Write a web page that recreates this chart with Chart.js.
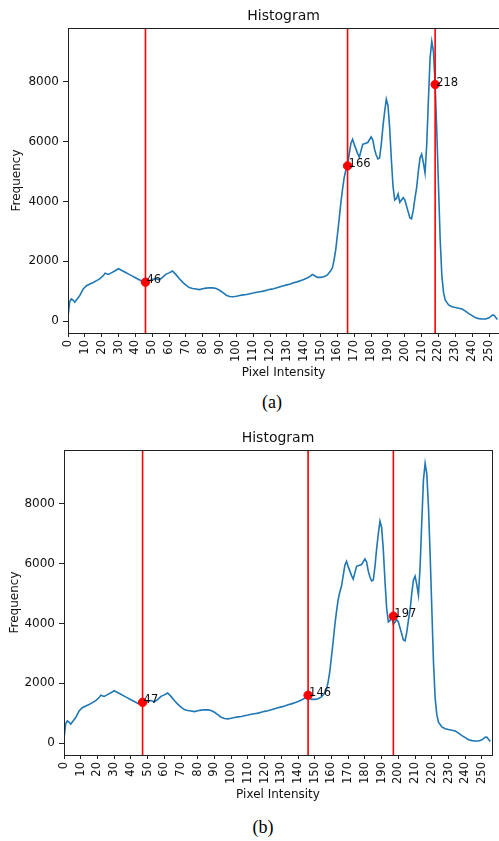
<!DOCTYPE html>
<html>
<head>
<meta charset="utf-8">
<script src="https://cdn.jsdelivr.net/npm/chart.js@4/dist/chart.umd.min.js"></script>
<style>
  html, body { margin: 0; padding: 0; background: #fff; }
  body { width: 499px; height: 841px; position: relative; overflow: hidden; }
  .wrap { position: absolute; left: 0; width: 499px; height: 392px; overflow: hidden; }
  .caption { position: absolute; font-family: "Liberation Serif", serif; font-size: 18px; color: #000; transform: translate(-50%, -50%); }
</style>
</head>
<body>
<div class="wrap" style="top:0px"><canvas id="chartA" width="506" height="390"></canvas></div>
<div class="caption" style="left:272px; top:402px">(a)</div>
<div class="wrap" style="top:422px"><canvas id="chartB" width="499" height="390"></canvas></div>
<div class="caption" style="left:263px; top:827px">(b)</div>

<script>
// histogram (pixel intensity -> frequency)
const intensity = [0, 1, 2, 3, 4, 6, 7, 9, 11, 13, 15, 17, 19, 21, 22, 24, 26, 28, 30, 32, 34, 36, 38, 40,
  42, 44, 46, 48, 50, 52, 54, 56, 58, 60, 62, 64, 66, 68, 70, 72, 74, 76, 78, 80, 82, 84, 86, 88, 90,
  92, 94, 96, 98, 100, 102, 104, 106, 108, 110, 112, 114, 116, 118, 120, 122, 124, 126, 128, 130, 132,
  134, 136, 138, 140, 142, 144, 145, 146, 148, 150, 152, 154, 156, 157, 158, 159, 160, 161, 162, 163,
  164, 165, 166, 167, 168, 169, 170, 171, 172, 173, 174, 175, 176, 178, 180, 181, 182, 183, 184, 185,
  186, 187, 188, 189, 190, 191, 192, 193, 194, 195, 196, 197, 198, 199, 200, 201, 202, 203, 204, 205,
  206, 207, 208, 209, 210, 211, 212, 213, 214, 215, 216, 217, 218, 219, 220, 221, 222, 223, 224, 226,
  228, 230, 232, 234, 236, 238, 240, 242, 244, 246, 248, 250, 252, 253, 254, 255];
const frequency = [150, 650, 740, 700, 630, 780, 850, 1070, 1180, 1240, 1290, 1350, 1420, 1520, 1600, 1560,
  1620, 1680, 1750, 1690, 1630, 1570, 1510, 1450, 1390, 1330, 1300, 1340, 1390, 1420, 1380, 1450, 1560,
  1610, 1675, 1560, 1420, 1300, 1200, 1120, 1090, 1070, 1050, 1080, 1100, 1115, 1110, 1090, 1030, 950,
  865, 820, 810, 830, 855, 875, 890, 915, 935, 960, 980, 1000, 1030, 1060, 1080, 1110, 1150, 1180, 1210,
  1240, 1280, 1310, 1350, 1390, 1440, 1500, 1560, 1530, 1460, 1460, 1480, 1540, 1680, 1780, 2050, 2400,
  2900, 3400, 3950, 4400, 4800, 5050, 5250, 5600, 5950, 6080, 5900, 5750, 5600, 5480, 5700, 5910, 5930,
  5970, 6160, 6050, 5750, 5550, 5420, 5450, 5900, 6500, 7000, 7420, 7200, 6450, 5400, 4500, 4050, 4100,
  4250, 3970, 4050, 4130, 4050, 3850, 3650, 3450, 3420, 3700, 4100, 4450, 5000, 5450, 5580, 5300, 4950,
  5900, 7400, 8800, 9350, 9000, 7900, 6300, 4500, 2700, 1500, 950, 700, 540, 480, 450, 430, 400, 330,
  250, 180, 110, 80, 70, 70, 110, 200, 190, 120, 50];

// marked thresholds
const markersA = [46, 166, 218];
const markerFreqA = [1300, 5190, 7910];
const markersB = [47, 146, 197];
const markerFreqB = [1360, 1600, 4245];

const xTicks = [0, 10, 20, 30, 40, 50, 60, 70, 80, 90, 100, 110, 120, 130, 140, 150, 160, 170, 180, 190,
  200, 210, 220, 230, 240, 250];
const yTicks = [0, 2000, 4000, 6000, 8000];

const FONT = '"DejaVu Sans", sans-serif';

// red vertical lines, drawn after the curve and before the markers
const vlinePlugin = {
  id: 'vlines',
  afterDatasetDraw(chart, args) {
    if (args.index !== 1) return;
    const { ctx, chartArea } = chart;
    const xs = chart.scales.x;
    ctx.save();
    ctx.strokeStyle = '#ff0000';
    ctx.lineWidth = 1.6;
    chart.data.datasets[0].data.forEach(p => {
      const px = xs.getPixelForValue(p.x);
      ctx.beginPath();
      ctx.moveTo(px, chartArea.top);
      ctx.lineTo(px, chartArea.bottom);
      ctx.stroke();
    });
    ctx.restore();
  }
};

// frame + marker labels
const framePlugin = {
  id: 'frame',
  afterDraw(chart) {
    const { ctx, chartArea } = chart;
    ctx.save();
    ctx.strokeStyle = '#222';
    ctx.lineWidth = 1;
    ctx.strokeRect(Math.round(chartArea.left) + 0.5, Math.round(chartArea.top) + 0.5,
      Math.round(chartArea.right - chartArea.left), Math.round(chartArea.bottom - chartArea.top));

    const meta = chart.getDatasetMeta(0);
    ctx.fillStyle = '#111';
    ctx.font = '11.5px ' + FONT;
    ctx.textAlign = 'left';
    ctx.textBaseline = 'alphabetic';
    meta.data.forEach((pt, i) => {
      ctx.fillText(String(chart.data.datasets[0].data[i].x), pt.x + 1, pt.y + 1);
    });
    ctx.restore();
  }
};

function makeChart(id, markers, markerFreq, yAxisWidth, yTitleTop, padRight) {
  const curve = intensity.map((v, i) => ({ x: v, y: frequency[i] }));
  const pts = markers.map((v, i) => ({ x: v, y: markerFreq[i] }));
  return new Chart(document.getElementById(id), {
    type: 'line',
    data: {
      datasets: [
        {
          data: pts,
          showLine: false,
          pointRadius: 4.2,
          pointBackgroundColor: '#ff0000',
          pointBorderColor: '#ff0000',
          borderColor: '#ff0000'
        },
        {
          data: curve,
          borderColor: '#1f77b4',
          borderWidth: 1.6,
          pointRadius: 0,
          tension: 0,
          fill: false
        }
      ]
    },
    options: {
      responsive: false,
      animation: false,
      devicePixelRatio: 1,
      layout: { padding: { left: 0, right: padRight, top: 0, bottom: 0 } },
      plugins: {
        legend: { display: false },
        tooltip: { enabled: false },
        title: {
          display: true,
          text: 'Histogram',
          fullSize: false,
          color: '#111',
          font: { family: FONT, size: 14, weight: 'normal' },
          padding: { top: 7.6, bottom: 3.6 }
        }
      },
      scales: {
        x: {
          type: 'linear',
          min: 0,
          max: 256,
          afterBuildTicks: s => { s.ticks = xTicks.map(v => ({ value: v })); },
          afterFit: s => { s.height = 57; },
          grid: { display: true, drawOnChartArea: false, drawTicks: true, tickLength: 4, tickColor: '#222' },
          border: { display: false },
          ticks: {
            minRotation: 90,
            maxRotation: 90,
            autoSkip: false,
            padding: 3,
            color: '#111',
            font: { family: FONT, size: 11.5 },
            callback: v => String(v)
          },
          title: {
            display: true,
            text: 'Pixel Intensity',
            color: '#111',
            font: { family: FONT, size: 12 },
            padding: { top: 0, bottom: 10 }
          }
        },
        y: {
          min: -400,
          max: 9800,
          afterBuildTicks: s => { s.ticks = yTicks.map(v => ({ value: v })); },
          afterFit: s => { s.width = yAxisWidth; },
          grid: { display: true, drawOnChartArea: false, drawTicks: true, tickLength: 5, tickColor: '#222' },
          border: { display: false },
          ticks: {
            padding: 4,
            color: '#111',
            font: { family: FONT, size: 12 },
            callback: v => String(v)
          },
          title: {
            display: true,
            text: 'Frequency',
            color: '#111',
            font: { family: FONT, size: 12 },
            padding: { top: yTitleTop, bottom: 0 }
          }
        }
      }
    },
    plugins: [vlinePlugin, framePlugin]
  });
}

makeChart('chartA', markersA, markerFreqA, 68, 9.5, 4.5);
makeChart('chartB', markersB, markerFreqB, 64, 7.8, 7);
</script>
</body>
</html>
